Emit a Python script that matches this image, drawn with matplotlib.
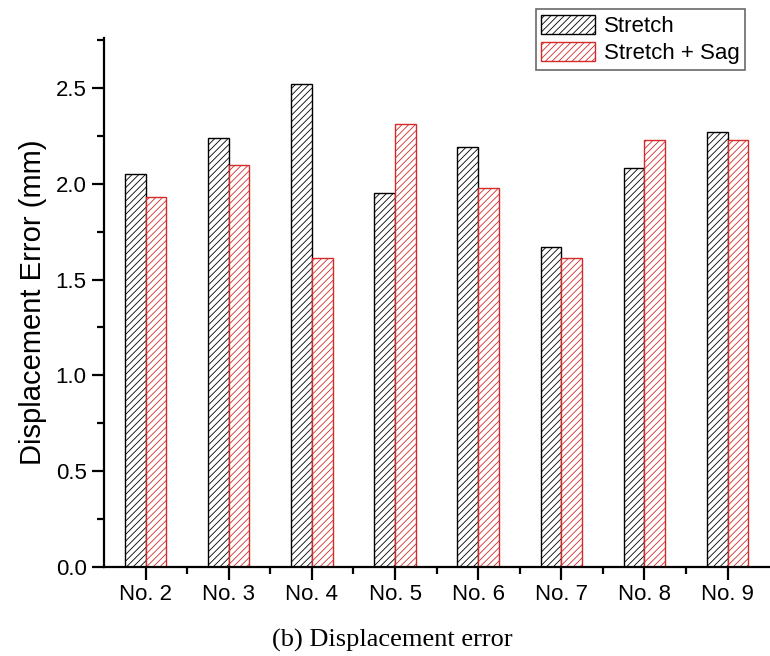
import numpy as np
import matplotlib
matplotlib.use("Agg")
import matplotlib.pyplot as plt
from matplotlib.ticker import MultipleLocator, FixedLocator

# displacement error per test case (mm)
cases = ["No. 2", "No. 3", "No. 4", "No. 5", "No. 6", "No. 7", "No. 8", "No. 9"]
stretch = [2.05, 2.24, 2.52, 1.95, 2.19, 1.67, 2.08, 2.27]
stretch_sag = [1.93, 2.10, 1.61, 2.31, 1.98, 1.61, 2.23, 2.23]

plt.rcParams["font.family"] = ["Liberation Sans", "DejaVu Sans"]
plt.rcParams["hatch.linewidth"] = 0.6

red = "#D42A2A"
w = 0.25

fig = plt.figure(figsize=(7.7, 6.56), dpi=100)
ax = fig.add_axes([0.135, 0.1357, 0.864, 0.8063])

x = np.arange(len(cases)) + 2
ax.bar(x - w / 2, stretch, w, facecolor="white", edgecolor="black",
       hatch="/////", linewidth=1.0, label="Stretch")
ax.bar(x + w / 2, stretch_sag, w, facecolor="white", edgecolor=red,
       hatch="/////", linewidth=1.0, label="Stretch + Sag")

ax.set_xlim(1.5, 9.5)
ax.set_ylim(0, 2.76)
ax.set_xticks(x)
ax.set_xticklabels(cases)
ax.xaxis.set_minor_locator(FixedLocator(x[:-1] + 0.5))
ax.yaxis.set_major_locator(MultipleLocator(0.5))
ax.yaxis.set_minor_locator(MultipleLocator(0.25))
ax.yaxis.set_major_formatter(matplotlib.ticker.FormatStrFormatter("%.1f"))

for s in ("top", "right"):
    ax.spines[s].set_visible(False)
for s in ("left", "bottom"):
    ax.spines[s].set_linewidth(1.6)

ax.tick_params(which="major", direction="out", length=9, width=1.6, labelsize=16)
ax.tick_params(which="minor", direction="out", length=5, width=1.6)
ax.set_ylabel("Displacement Error (mm)", fontsize=21, labelpad=6)

leg = fig.legend(loc="upper right", bbox_to_anchor=(745 / 770, 1 - 9 / 656),
                 fontsize=16, frameon=True, fancybox=False, edgecolor="#444444",
                 handlelength=2.4, handleheight=1.0, borderpad=0.25,
                 labelspacing=0.2, handletextpad=0.4, borderaxespad=0)
leg.get_frame().set_linewidth(1.2)

fig.text(392 / 770, 1 - 640 / 656, "(b) Displacement error", ha="center", va="center",
         fontsize=19, family=["Liberation Serif", "DejaVu Serif"])

fig.savefig("out.png", dpi=100)
